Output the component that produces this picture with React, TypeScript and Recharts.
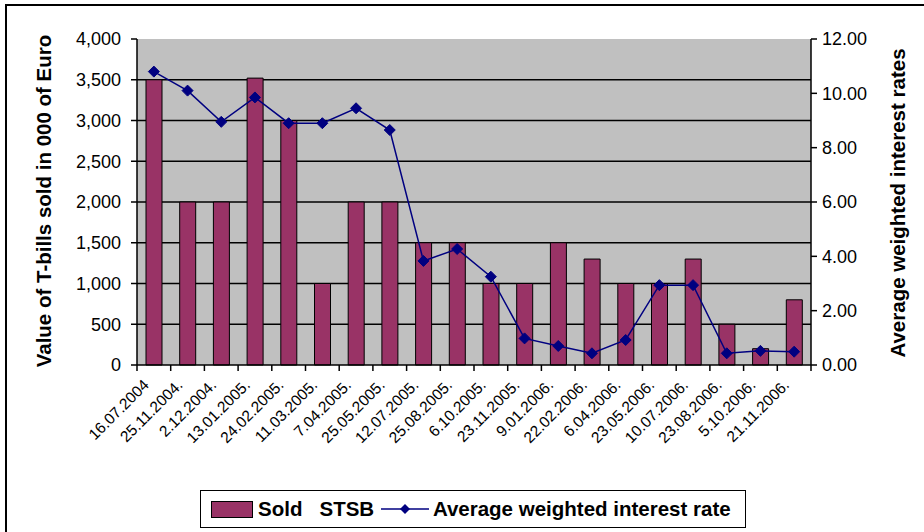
import { ComposedChart, Bar, Line, XAxis, YAxis, CartesianGrid, ReferenceLine } from 'recharts'

const dates = [
  '16.07.2004', '25.11.2004.', '2.12.2004.', '13.01.2005.', '24.02.2005.',
  '11.03.2005.', '7.04.2005.', '25.05.2005.', '12.07.2005.', '25.08.2005.',
  '6.10.2005.', '23.11.2005.', '9.01.2006.', '22.02.2006.', '6.04.2006.',
  '23.05.2006.', '10.07.2006.', '23.08.2006.', '5.10.2006.', '21.11.2006.',
]
const soldSTSB = [3500, 2000, 2000, 3520, 3000, 1000, 2000, 2000, 1500, 1500, 1000, 1000, 1500, 1300, 1000, 1000, 1300, 500, 200, 800]
const avgRate = [10.8, 10.1, 8.95, 9.85, 8.9, 8.9, 9.45, 8.65, 3.83, 4.27, 3.25, 0.98, 0.7, 0.43, 0.92, 2.94, 2.94, 0.43, 0.52, 0.49]
const leftTicks = [0, 500, 1000, 1500, 2000, 2500, 3000, 3500, 4000]
const rightTicks = [0, 2, 4, 6, 8, 10, 12]
const gridValues = [500, 1000, 1500, 2000, 2500, 3000, 3500]

const data = dates.map((d, i) => ({ date: d, sold: soldSTSB[i], rate: avgRate[i] }))

const FONT = "'Liberation Sans', Arial, sans-serif"
const W = 924
const H = 532
const PLOT_LEFT = 137
const PLOT_RIGHT = 811
const HALF_BAND = (PLOT_RIGHT - PLOT_LEFT) / dates.length / 2

// date labels + tick marks on the category boundaries (Excel style)
function DateTick(props: any) {
  const { x, y, payload, index } = props
  const tx = x - 4
  const ty = y + 21
  return (
    <g>
      <line x1={x - HALF_BAND} y1={y} x2={x - HALF_BAND} y2={y + 6} stroke="#000" strokeWidth={1.5} />
      {index === dates.length - 1 && (
        <line x1={x + HALF_BAND} y1={y} x2={x + HALF_BAND} y2={y + 6} stroke="#000" strokeWidth={1.5} />
      )}
      <text x={tx} y={ty} textAnchor="end" fontSize={15.5} fontFamily={FONT} fill="#000" transform={`rotate(-45, ${tx}, ${ty})`}>
        {payload.value}
      </text>
    </g>
  )
}

function Diamond(props: any) {
  const { cx, cy } = props
  if (cx == null || cy == null) return null
  const r = 5.5
  return <polygon points={`${cx},${cy - r} ${cx + r},${cy} ${cx},${cy + r} ${cx - r},${cy}`} fill="#000080" stroke="#000080" />
}

export default function App() {
  return (
    <div style={{ position: 'absolute', left: 0, top: 0, width: W, height: H, overflow: 'hidden', background: '#fff' }}>
      <div style={{ position: 'absolute', left: 5, top: 4, width: 960, height: 600, border: '2px solid #000', boxSizing: 'border-box' }} />
      <div style={{ position: 'absolute', left: 0, top: 0 }}>
        <ComposedChart width={W} height={H} data={data} margin={{ top: 39, right: 0, left: 0, bottom: 0 }}>
          <CartesianGrid yAxisId="left" horizontal={false} vertical={false} fill="#c0c0c0" />
          {gridValues.map(v => (
            <ReferenceLine key={v} yAxisId="left" y={v} stroke="#000" strokeWidth={1.5} zIndex={-50} />
          ))}
          <XAxis
            dataKey="date"
            height={167}
            interval={0}
            tickLine={false}
            tickSize={0}
            tickMargin={0}
            tick={<DateTick />}
            axisLine={{ stroke: '#000', strokeWidth: 1.5 }}
          />
          <YAxis
            yAxisId="left"
            width={137}
            domain={[0, 4000]}
            ticks={leftTicks}
            tickFormatter={(v: number) => v.toLocaleString('en-US')}
            tick={{ fill: '#000', fontSize: 18, fontFamily: FONT }}
            tickSize={6}
            tickMargin={10}
            tickLine={{ stroke: '#000', strokeWidth: 1.5 }}
            axisLine={{ stroke: '#000', strokeWidth: 1.5 }}
            label={({ viewBox }: any) => {
              const cx = viewBox.x + 43
              const cy = viewBox.y + viewBox.height / 2 - 1
              return (
                <text x={cx} y={cy} textAnchor="middle" dominantBaseline="central" fontSize={20.5} fontWeight="bold" fontFamily={FONT} fill="#000" transform={`rotate(-90, ${cx}, ${cy})`}>
                  Value of T-bills sold in 000 of Euro
                </text>
              )
            }}
          />
          <YAxis
            yAxisId="right"
            orientation="right"
            width={113}
            domain={[0, 12]}
            ticks={rightTicks}
            tickFormatter={(v: number) => v.toFixed(2)}
            tick={{ fill: '#000', fontSize: 18, fontFamily: FONT }}
            tickSize={6}
            tickMargin={5}
            tickLine={{ stroke: '#000', strokeWidth: 1.5 }}
            axisLine={{ stroke: '#000', strokeWidth: 1.5 }}
            label={({ viewBox }: any) => {
              const cx = viewBox.x + 86
              const cy = viewBox.y + viewBox.height / 2 + 1
              return (
                <text x={cx} y={cy} textAnchor="middle" dominantBaseline="central" fontSize={20.5} fontWeight="bold" fontFamily={FONT} fill="#000" transform={`rotate(-90, ${cx}, ${cy})`}>
                  Average weighted interest rates
                </text>
              )
            }}
          />
          <Bar yAxisId="left" dataKey="sold" fill="#993366" stroke="#000" strokeWidth={1} barSize={16} isAnimationActive={false} />
          <Line yAxisId="right" dataKey="rate" type="linear" stroke="#000080" strokeWidth={1.5} dot={<Diamond />} activeDot={false} isAnimationActive={false} />
        </ComposedChart>
      </div>
      <div
        style={{
          position: 'absolute', left: 200, top: 490, width: 546, height: 38, boxSizing: 'border-box',
          border: '1.5px solid #000', background: '#fff', display: 'flex', alignItems: 'center',
          fontFamily: FONT, fontWeight: 'bold', fontSize: 20.5, color: '#000', whiteSpace: 'pre',
        }}
      >
        <span style={{ display: 'inline-block', width: 40, height: 15, background: '#993366', border: '1px solid #000', marginLeft: 10, marginRight: 5 }} />
        <span>Sold   STSB </span>
        <svg width={50} height={14} style={{ marginRight: 3 }}>
          <line x1={1} y1={7} x2={49} y2={7} stroke="#000080" strokeWidth={1.5} />
          <polygon points="25,2 30,7 25,12 20,7" fill="#000080" />
        </svg>
        <span>Average weighted interest rate</span>
      </div>
    </div>
  )
}
